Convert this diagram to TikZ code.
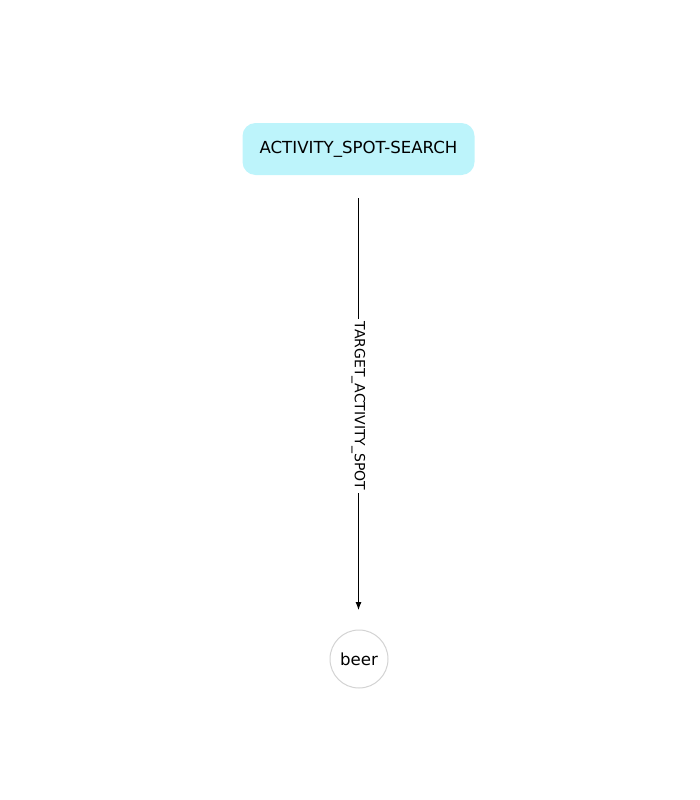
\documentclass[tikz,border=0pt]{standalone}
\usepackage{fontspec}
\setmainfont{DejaVu Sans}
\usetikzlibrary{arrows.meta}
\definecolor{nodecyan}{HTML}{BDF4FB}
\definecolor{ringgray}{HTML}{D3D3D3}
\begin{document}
\begin{tikzpicture}[x=1pt,y=-1pt,
  actbox/.style={draw=none,fill=nodecyan,rounded corners=13pt,minimum width=232pt,minimum height=52pt,inner sep=0pt,font=\fontsize{16.6}{19}\selectfont},
  entcircle/.style={circle,draw=ringgray,line width=1pt,fill=white,minimum size=58pt,inner sep=0pt,font=\fontsize{16.6}{19}\selectfont},
  rel/.style={draw=black,line width=0.9pt,-{Latex[length=8pt,width=6pt]}},
  rellabel/.style={fill=white,inner sep=3pt,rotate=-90,font=\fontsize{14}{16}\selectfont}]
\useasboundingbox (0,0) rectangle (700,800);
\node[actbox] (act) at (358.5,149) {ACTIVITY\_SPOT-SEARCH};
\node[entcircle] (beer) at (359,659) {beer};
\coordinate (s) at (358.5,198);
\coordinate (t) at (358.5,610);
\draw[rel] (s) -- node[rellabel,pos=0.505] {TARGET\_ACTIVITY\_SPOT} (t);
\end{tikzpicture}
\end{document}
